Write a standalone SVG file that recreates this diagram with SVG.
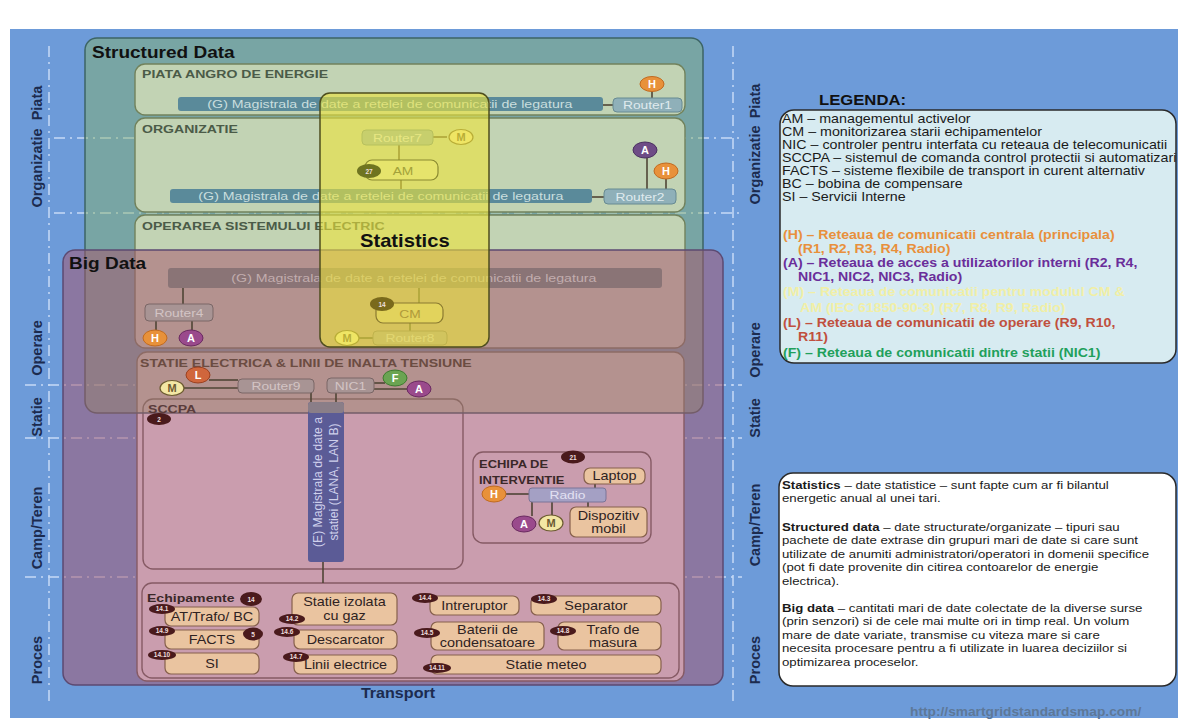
<svg xmlns="http://www.w3.org/2000/svg" width="1178" height="721" viewBox="0 0 1178 721">
  <style>
    text{font-family:"Liberation Sans",Arial,Helvetica,sans-serif}
    .sep{stroke:#c6daf6;stroke-width:1.5;stroke-dasharray:11 5 2 5;fill:none}
    .zone{fill:#f0ebf5;stroke:#625e5a;stroke-width:1.4}
    .side{font-size:14.5px;font-weight:bold;fill:#1c2b4f;text-anchor:middle}
    /* horizontally widened lettering */
    .wl{transform-box:fill-box;transform-origin:0 50%}
    .wc{transform-box:fill-box;transform-origin:50% 50%}
    .zt{font-size:11px;font-weight:bold;transform:scaleX(1.28)}
    .ln{stroke:#4f4535;stroke-width:1.6;fill:none}
    .busS{fill:#5a8a9a}
    .busB{fill:#8a7476}
    .busT{font-size:11.5px;text-anchor:middle;transform:scaleX(1.235)}
    .busE{font-size:12.2px;text-anchor:middle;fill:#cfd0ec}
    .rtS{fill:#8fb0b9;stroke:#678a92;stroke-width:1}
    .rtB{fill:#a89494;stroke:#7a6666;stroke-width:1}
    .rtxt{font-size:11.5px;text-anchor:middle;transform:scaleX(1.2)}
    .H{fill:#e8913a;stroke:#c06a20;stroke-width:1}
    .A{fill:#9a4a8c;stroke:#6a2a60;stroke-width:1}
    .AS{fill:#6e4c86;stroke:#4a3060;stroke-width:1}
    .L{fill:#d0663c;stroke:#9a4020;stroke-width:1}
    .F{fill:#6aa452;stroke:#3e7a30;stroke-width:1}
    .M{fill:#f3e7a4;stroke:#6b5a30;stroke-width:1.2}
    .ct{font-size:11px;font-weight:bold;text-anchor:middle;fill:#fff}
    .mt{font-size:11px;font-weight:bold;text-anchor:middle;fill:#6b5a30}
    .item{fill:#eac4a0;stroke:#86604c;stroke-width:1.2}
    .itxt{font-size:12px;fill:#2e2222;text-anchor:middle;transform:scaleX(1.2)}
    .bdg{fill:#4a1a1c}
    .btxt{font-size:6.5px;font-weight:bold;fill:#eedede;text-anchor:middle}
    .leg{font-size:12.4px;fill:#1a1a1a;transform:scaleX(1.15)}
    .legc{font-size:12.3px;font-weight:bold;transform:scaleX(1.15)}
    .leg2{font-size:11.5px;fill:#1a1a1a;transform:scaleX(1.15)}
    .big{font-weight:bold;fill:#111;transform:scaleX(1.12)}
  </style>

  <!-- page -->
  <rect width="1178" height="721" fill="#ffffff"/>
  <rect x="10" y="29" width="1168" height="689" fill="#6d9bd9"/>

  <!-- layer guides -->
  <g id="guides">
    <line class="sep" x1="49" y1="46" x2="49" y2="705"/>
    <line class="sep" x1="733" y1="46" x2="733" y2="705"/>
    <line class="sep" x1="54" y1="138" x2="742" y2="138"/>
    <line class="sep" x1="54" y1="213" x2="742" y2="213"/>
    <line class="sep" x1="25" y1="385" x2="742" y2="385"/>
    <line class="sep" x1="25" y1="438" x2="742" y2="438"/>
    <line class="sep" x1="25" y1="577" x2="742" y2="577"/>
  </g>

  <!-- zones -->
  <g id="zone-piata"><rect class="zone" x="135" y="64" width="550" height="51" rx="10"/></g>
  <g id="zone-organizatie"><rect class="zone" x="135" y="118" width="550" height="94" rx="10"/></g>
  <g id="zone-operare"><rect class="zone" x="135" y="215" width="550" height="133" rx="10"/></g>
  <g id="zone-statie"><rect class="zone" x="137" y="352" width="547" height="329" rx="10"/></g>
  <g id="zone-sccpa"><rect class="zone" x="143" y="399" width="320" height="170" rx="10"/></g>
  <g id="zone-echipa"><rect class="zone" x="473" y="452" width="178" height="91" rx="10"/></g>
  <g id="zone-echipamente"><rect class="zone" x="142" y="583" width="537" height="95" rx="10"/></g>

  <!-- data domains -->
  <g id="structured-data">
    <rect x="85" y="38" width="618" height="375" rx="12" fill="#87b260" fill-opacity="0.43" stroke="#3c6464" stroke-width="1.5"/>
  </g>
  <g id="big-data">
    <rect x="63" y="250" width="660" height="435" rx="12" fill="#a7566d" fill-opacity="0.52" stroke="#5c4a72" stroke-width="1.5"/>
  </g>

  <!-- zone titles -->
  <g id="zone-titles">
    <text class="zt wl" x="142" y="78" fill="#4b5b48">PIATA ANGRO DE ENERGIE</text>
    <text class="zt wl" x="142" y="133" fill="#4b5b48">ORGANIZATIE</text>
    <text class="zt wl" x="142" y="230" fill="#4b5b48">OPERAREA SISTEMULUI ELECTRIC</text>
    <text class="zt wl" x="140" y="367" fill="#6b4c42">STATIE ELECTRICA &amp; LINII DE INALTA TENSIUNE</text>
    <text class="zt wl" x="148" y="413" fill="#5a3c3c">SCCPA</text>
    <text class="zt wl" x="479" y="468" fill="#3a2828" style="transform:scaleX(1.18)">ECHIPA DE</text>
    <text class="zt wl" x="479" y="484" fill="#3a2828" style="transform:scaleX(1.18)">INTERVENTIE</text>
    <text class="zt wl" x="147" y="602" fill="#3a2828">Echipamente</text>
  </g>

  <!-- links -->
  <g id="connectors" class="ln">
    <path d="M603,105 H613"/>
    <path d="M652,91 V98"/>
    <path d="M592,197 H604"/>
    <path d="M647,158 V189"/>
    <path d="M666,179 V189"/>
    <path d="M433,137 H447"/>
    <path d="M399,145 V160"/>
    <path d="M401,180 V189"/>
    <path d="M183,288 V304"/>
    <path d="M156,321 V330"/>
    <path d="M192,321 V330"/>
    <path d="M419,288 V303"/>
    <path d="M410,323 V331"/>
    <path d="M359,338 H373"/>
    <path d="M209,380 H238"/>
    <path d="M184,388 H238"/>
    <path d="M374,383 H385"/>
    <path d="M374,389 H407"/>
    <path d="M311,393 V402"/>
    <path d="M336,393 V402"/>
    <path d="M323,562 V583"/>
    <path d="M506,494 H529"/>
    <path d="M532,502 V516"/>
    <path d="M552,502 V515"/>
    <path d="M588,502 V507"/>
    <path d="M595,484 V488"/>
  </g>

  <!-- market -->
  <g id="bus-piata">
    <rect class="busS" x="178" y="97" width="425" height="14" rx="3"/>
    <text class="busT wc" x="390" y="108.5" fill="#c9dede">(G) Magistrala de date a retelei de comunicatii de legatura</text>
  </g>
  <g id="router1">
    <rect class="rtS" x="613" y="98" width="69" height="14" rx="4"/>
    <text class="rtxt wc" x="647.5" y="109.5" fill="#dfeaee">Router1</text>
  </g>
  <g id="h-router1"><ellipse class="H" cx="652" cy="84" rx="12" ry="7.5"/><text class="ct" x="652" y="88">H</text></g>

  <!-- enterprise -->
  <g id="bus-organizatie">
    <rect class="busS" x="170" y="189" width="422" height="14" rx="3"/>
    <text class="busT wc" x="381" y="200.5" fill="#c9dede">(G) Magistrala de date a retelei de comunicatii de legatura</text>
  </g>
  <g id="router2">
    <rect class="rtS" x="604" y="189" width="72" height="15" rx="4"/>
    <text class="rtxt wc" x="640" y="201" fill="#dfeaee">Router2</text>
  </g>
  <g id="a-router2"><ellipse class="AS" cx="645" cy="150" rx="12" ry="8"/><text class="ct" x="645" y="154">A</text></g>
  <g id="h-router2"><ellipse class="H" cx="666" cy="171" rx="12" ry="8"/><text class="ct" x="666" y="175">H</text></g>
  <g id="router7">
    <rect class="rtS" x="362" y="130" width="71" height="15" rx="4"/>
    <text class="rtxt wc" x="397.5" y="142" fill="#dfeaee">Router7</text>
  </g>
  <g id="m-router7"><ellipse class="M" cx="461" cy="137" rx="12" ry="7.5"/><text class="mt" x="461" y="141">M</text></g>

  <!-- operation -->
  <g id="bus-operare">
    <rect class="busB" x="168" y="268" width="494" height="20" rx="3"/>
    <text class="busT wc" x="414" y="282" fill="#c2adae">(G) Magistrala de date a retelei de comunicatii de legatura</text>
  </g>
  <g id="router4">
    <rect class="rtB" x="145" y="304" width="68" height="17" rx="4"/>
    <text class="rtxt wc" x="179" y="317" fill="#d3c4c4">Router4</text>
  </g>
  <g id="h-router4"><ellipse class="H" cx="155" cy="338" rx="12" ry="8"/><text class="ct" x="155" y="342">H</text></g>
  <g id="a-router4"><ellipse class="A" cx="191" cy="338" rx="12" ry="8"/><text class="ct" x="191" y="342">A</text></g>
  <g id="router8">
    <rect class="rtB" x="373" y="331" width="74" height="14" rx="4"/>
    <text class="rtxt wc" x="410" y="342.5" fill="#d3c4c4">Router8</text>
  </g>
  <g id="m-router8"><ellipse class="M" cx="347" cy="338" rx="12" ry="7.5"/><text class="mt" x="347" y="342">M</text></g>

  <!-- station -->
  <g id="l-router9"><ellipse class="L" cx="198" cy="375" rx="12" ry="8"/><text class="ct" x="198" y="379">L</text></g>
  <g id="m-router9"><ellipse class="M" cx="172" cy="388" rx="12" ry="7.5"/><text class="mt" x="172" y="392">M</text></g>
  <g id="router9">
    <rect class="rtB" x="238" y="379" width="76" height="14" rx="4"/>
    <text class="rtxt wc" x="276" y="390.5" fill="#d3c4c4">Router9</text>
  </g>
  <g id="nic1">
    <rect class="rtB" x="327" y="378" width="47" height="15" rx="4"/>
    <text class="rtxt wc" x="350.5" y="390" fill="#d3c4c4">NIC1</text>
  </g>
  <g id="f-nic1"><ellipse class="F" cx="395" cy="378" rx="12" ry="8"/><text class="ct" x="395" y="382">F</text></g>
  <g id="a-nic1"><ellipse class="A" cx="419" cy="389" rx="12" ry="8"/><text class="ct" x="419" y="393">A</text></g>
  <g id="bus-statie">
    <rect x="308" y="402" width="36" height="160" rx="3" fill="#5b5b96"/>
    <rect x="308" y="402" width="36" height="11" rx="3" fill="#8a7e88"/>
    <text transform="translate(322,482) rotate(-90)" class="busE">(E) Magistrala de date a</text>
    <text transform="translate(338,482) rotate(-90)" class="busE">statiei (LANA, LAN B)</text>
  </g>
  <g id="badge-sccpa"><ellipse class="bdg" cx="159" cy="419" rx="12" ry="6"/><text class="btxt" x="159" y="421.5">2</text></g>

  <!-- field crew -->
  <g id="badge-echipa"><ellipse class="bdg" cx="573" cy="457" rx="12" ry="6.5"/><text class="btxt" x="573" y="459.5">21</text></g>
  <g id="laptop">
    <rect class="item" x="584" y="468" width="61" height="16" rx="6"/>
    <text class="itxt wc" x="614.5" y="480.5">Laptop</text>
  </g>
  <g id="radio">
    <rect x="529" y="488" width="77" height="14" rx="3" fill="#a4a0c4" stroke="#7a7498" stroke-width="1"/>
    <text class="rtxt wc" x="567.5" y="499.5" fill="#e2e0f2">Radio</text>
  </g>
  <g id="dispozitiv">
    <rect class="item" x="570" y="507" width="77" height="30" rx="6"/>
    <text class="itxt wc" x="608.5" y="520">Dispozitiv</text>
    <text class="itxt wc" x="608.5" y="533.5">mobil</text>
  </g>
  <g id="h-radio"><ellipse class="H" cx="494" cy="494" rx="12" ry="8"/><text class="ct" x="494" y="498">H</text></g>
  <g id="a-radio"><ellipse class="A" cx="524" cy="524" rx="12" ry="8"/><text class="ct" x="524" y="528">A</text></g>
  <g id="m-radio"><ellipse class="M" cx="551" cy="523" rx="12" ry="8"/><text class="mt" x="551" y="527">M</text></g>

  <!-- process equipment -->
  <g id="badge-echipamente"><ellipse class="bdg" cx="251" cy="599" rx="11" ry="7"/><text class="btxt" x="251" y="601.5">14</text></g>
  <g id="at-trafo-bc">
    <rect class="item" x="165" y="607" width="94" height="19" rx="6"/>
    <text class="itxt wc" x="212" y="621">AT/Trafo/ BC</text>
    <ellipse class="bdg" cx="162" cy="609" rx="13" ry="5"/><text class="btxt" x="162" y="611">14.1</text>
  </g>
  <g id="facts">
    <rect class="item" x="165" y="630" width="94" height="19" rx="6"/>
    <text class="itxt wc" x="212" y="644">FACTS</text>
    <ellipse class="bdg" cx="162" cy="631" rx="13" ry="5"/><text class="btxt" x="162" y="633">14.9</text>
    <ellipse class="bdg" cx="253" cy="634" rx="10" ry="6.5"/><text class="btxt" x="253" y="636.5">5</text>
  </g>
  <g id="si">
    <rect class="item" x="165" y="653" width="94" height="21" rx="6"/>
    <text class="itxt wc" x="212" y="668">SI</text>
    <ellipse class="bdg" cx="162" cy="655" rx="14" ry="5"/><text class="btxt" x="162" y="657">14.10</text>
  </g>
  <g id="statie-izolata">
    <rect class="item" x="292" y="593" width="105" height="32" rx="6"/>
    <text class="itxt wc" x="344.5" y="606">Statie izolata</text>
    <text class="itxt wc" x="344.5" y="620">cu gaz</text>
    <ellipse class="bdg" cx="292" cy="619" rx="13" ry="5"/><text class="btxt" x="292" y="621">14.2</text>
  </g>
  <g id="descarcator">
    <rect class="item" x="294" y="630" width="103" height="19" rx="6"/>
    <text class="itxt wc" x="345.5" y="644">Descarcator</text>
    <ellipse class="bdg" cx="287" cy="632" rx="13" ry="5"/><text class="btxt" x="287" y="634">14.6</text>
  </g>
  <g id="linii-electrice">
    <rect class="item" x="294" y="655" width="103" height="19" rx="6"/>
    <text class="itxt wc" x="345.5" y="669">Linii electrice</text>
    <ellipse class="bdg" cx="296" cy="657" rx="13" ry="5"/><text class="btxt" x="296" y="659">14.7</text>
  </g>
  <g id="intreruptor">
    <rect class="item" x="430" y="596" width="89" height="19" rx="6"/>
    <text class="itxt wc" x="474.5" y="610">Intreruptor</text>
    <ellipse class="bdg" cx="425" cy="598" rx="13" ry="5"/><text class="btxt" x="425" y="600">14.4</text>
  </g>
  <g id="separator">
    <rect class="item" x="531" y="596" width="130" height="19" rx="6"/>
    <text class="itxt wc" x="596" y="610">Separator</text>
    <ellipse class="bdg" cx="544" cy="599" rx="13" ry="5"/><text class="btxt" x="544" y="601">14.3</text>
  </g>
  <g id="baterii">
    <rect class="item" x="431" y="622" width="113" height="28" rx="6"/>
    <text class="itxt wc" x="487.5" y="634">Baterii de</text>
    <text class="itxt wc" x="487.5" y="647">condensatoare</text>
    <ellipse class="bdg" cx="427" cy="633" rx="13" ry="5"/><text class="btxt" x="427" y="635">14.5</text>
  </g>
  <g id="trafo-masura">
    <rect class="item" x="558" y="622" width="103" height="28" rx="6"/>
    <text class="itxt wc" x="613" y="634">Trafo de</text>
    <text class="itxt wc" x="613" y="647">masura</text>
    <ellipse class="bdg" cx="563" cy="631" rx="13" ry="5"/><text class="btxt" x="563" y="633">14.8</text>
  </g>
  <g id="statie-meteo">
    <rect class="item" x="431" y="655" width="230" height="19" rx="6"/>
    <text class="itxt wc" x="546" y="669">Statie meteo</text>
    <ellipse class="bdg" cx="437" cy="668" rx="14" ry="5"/><text class="btxt" x="437" y="670">14.11</text>
  </g>

  <!-- statistics domain -->
  <g id="statistics">
    <rect x="320" y="93" width="169" height="254" rx="10" fill="#ede43a" fill-opacity="0.6" stroke="#4e4e1e" stroke-width="1.5"/>
  </g>

  <!-- asset and condition monitoring modules -->
  <g id="am">
    <rect x="365" y="160" width="73" height="20" rx="7" fill="#e6e46c" stroke="#8a8a30" stroke-width="1.2"/>
    <text class="rtxt wc" x="403" y="175" fill="#a3a23a">AM</text>
    <ellipse cx="369" cy="171" rx="12" ry="7" fill="#6f7420"/>
    <text class="btxt" x="369" y="173.5" fill="#e8e8b0">27</text>
  </g>
  <g id="cm">
    <rect x="376" y="303" width="67" height="20" rx="7" fill="#e2d35c" stroke="#8a7a30" stroke-width="1.2"/>
    <text class="rtxt wc" x="410" y="318" fill="#b09a3a">CM</text>
    <ellipse cx="382" cy="304" rx="12" ry="7" fill="#7a6a1c"/>
    <text class="btxt" x="382" y="306.5" fill="#e8e0b0">14</text>
  </g>

  <!-- domain labels -->
  <g id="domain-labels">
    <text class="big wl" x="92" y="58" font-size="17">Structured Data</text>
    <text class="big wl" x="69" y="269" font-size="17">Big Data</text>
    <text class="big wl" x="360" y="247" font-size="18">Statistics</text>
  </g>

  <!-- zone labels -->
  <g id="side-labels" class="side">
    <text transform="translate(42,103) rotate(-90)">Piata</text>
    <text transform="translate(42,168) rotate(-90)">Organizatie</text>
    <text transform="translate(42,348) rotate(-90)">Operare</text>
    <text transform="translate(42,417) rotate(-90)">Statie</text>
    <text transform="translate(42,528) rotate(-90)">Camp/Teren</text>
    <text transform="translate(42,660) rotate(-90)">Proces</text>
    <text transform="translate(760,101) rotate(-90)">Piata</text>
    <text transform="translate(760,165) rotate(-90)">Organizatie</text>
    <text transform="translate(760,350) rotate(-90)">Operare</text>
    <text transform="translate(760,418) rotate(-90)">Statie</text>
    <text transform="translate(760,525) rotate(-90)">Camp/Teren</text>
    <text transform="translate(760,660) rotate(-90)">Proces</text>
  </g>
  <text id="transport" class="wc" x="398" y="698" font-size="14" font-weight="bold" fill="#1c2b4f" text-anchor="middle" style="transform:scaleX(1.15)">Transport</text>

  <!-- legend -->
  <g id="legend">
    <text class="wl" x="819" y="105" font-size="14.5" font-weight="bold" fill="#111" style="transform:scaleX(1.15)">LEGENDA:</text>
    <rect x="780" y="110" width="396" height="253" rx="14" fill="#d7ebf1" stroke="#2a2a2a" stroke-width="1.5"/>
    <text class="leg wl" x="782" y="123">AM – managementul activelor</text>
    <text class="leg wl" x="782" y="136">CM – monitorizarea starii echipamentelor</text>
    <text class="leg wl" x="782" y="149">NIC – controler pentru interfata cu reteaua de telecomunicatii</text>
    <text class="leg wl" x="782" y="162">SCCPA – sistemul de comanda control protectii si automatizari</text>
    <text class="leg wl" x="782" y="175">FACTS – sisteme flexibile de transport in curent alternativ</text>
    <text class="leg wl" x="782" y="188">BC – bobina de compensare</text>
    <text class="leg wl" x="782" y="201">SI – Servicii Interne</text>
    <text class="legc wl" x="783" y="239.5" fill="#e8903c">(H) – Reteaua de comunicatii centrala (principala)</text>
    <text class="legc wl" x="798" y="253.5" fill="#e8903c">(R1, R2, R3, R4, Radio)</text>
    <text class="legc wl" x="783" y="267.5" fill="#6a2e9a">(A) – Reteaua de acces a utilizatorilor interni (R2, R4,</text>
    <text class="legc wl" x="798" y="281.5" fill="#6a2e9a">NIC1, NIC2, NIC3, Radio)</text>
    <text class="legc wl" x="783" y="296.5" fill="#f1efa6">(M) – Reteaua de comunicatii pentru modulul CM &amp;</text>
    <text class="legc wl" x="800" y="312" fill="#f1efa6">AM (IEC 61850-90-3) (R7, R8, R9, Radio)</text>
    <text class="legc wl" x="783" y="327" fill="#c0503e">(L) – Reteaua de comunicatii de operare (R9, R10,</text>
    <text class="legc wl" x="798" y="341" fill="#c0503e">R11)</text>
    <text class="legc wl" x="783" y="357" fill="#1fa05c">(F) – Reteaua de comunicatii dintre statii (NIC1)</text>
  </g>

  <g id="definitions">
    <rect x="779" y="473" width="397" height="213" rx="14" fill="#ffffff" stroke="#2a2a2a" stroke-width="1.5"/>
    <text class="leg2 wl" x="782" y="489"><tspan font-weight="bold">Statistics</tspan> – date statistice – sunt fapte cum ar fi bilantul</text>
    <text class="leg2 wl" x="782" y="502.5">energetic anual al unei tari.</text>
    <text class="leg2 wl" x="782" y="531"><tspan font-weight="bold">Structured data</tspan> – date structurate/organizate – tipuri sau</text>
    <text class="leg2 wl" x="782" y="544.5">pachete de date extrase din grupuri mari de date si care sunt</text>
    <text class="leg2 wl" x="782" y="558">utilizate de anumiti administratori/operatori in domenii specifice</text>
    <text class="leg2 wl" x="782" y="571.5">(pot fi date provenite din citirea contoarelor de energie</text>
    <text class="leg2 wl" x="782" y="585">electrica).</text>
    <text class="leg2 wl" x="782" y="612"><tspan font-weight="bold">Big data</tspan> – cantitati mari de date colectate de la diverse surse</text>
    <text class="leg2 wl" x="782" y="625.5">(prin senzori) si de cele mai multe ori in timp real.  Un volum</text>
    <text class="leg2 wl" x="782" y="639">mare de date variate, transmise cu viteza mare si care</text>
    <text class="leg2 wl" x="782" y="652.5">necesita procesare pentru a fi utilizate in luarea deciziilor si</text>
    <text class="leg2 wl" x="782" y="666">optimizarea proceselor.</text>
  </g>

  <text id="source" class="wl" x="910" y="716" font-size="12.5" font-weight="bold" fill="#5d7898" style="transform:scaleX(1.1)">http://smartgridstandardsmap.com/</text>
</svg>
